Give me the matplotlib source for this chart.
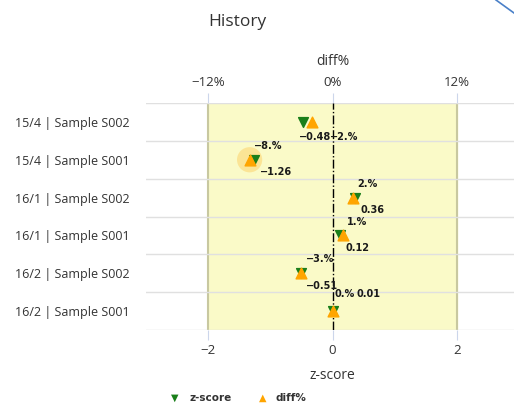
import numpy as np
import matplotlib
matplotlib.use('Agg')
import matplotlib.pyplot as plt
from matplotlib.lines import Line2D

# datos
categorias = ["15/4 | Sample S002", "15/4 | Sample S001", "16/1 | Sample S002",
              "16/1 | Sample S001", "16/2 | Sample S002", "16/2 | Sample S001"]
zscore = [-0.48, -1.26, 0.36, 0.12, -0.51, 0.01]
diff_pct = [-2, -8, 2, 1, -3, 0]
etiq_z = ["\u22120.48", "\u22121.26", "0.36", "0.12", "\u22120.51", "0.01"]
etiq_diff = ["\u22122.%", "\u22128.%", "2.%", "1.%", "\u22123.%", "0.%"]

plt.rcParams['font.family'] = ['Open Sans', 'DejaVu Sans']

fig = plt.figure(figsize=(5.14, 4.03), dpi=100)
ax = fig.add_axes([146 / 514, 1 - 330 / 403, 373 / 514, 227 / 403])

y = np.arange(len(categorias))
ax.set_xlim(-3, 3)
ax.set_ylim(len(categorias) - 0.5, -0.5)

# banda amarilla y linea del cero
ax.axvspan(-2, 2, color='#fafac8', zorder=0)
ax.axvline(-2, color='#c8c8a0', lw=1.5, zorder=1)
ax.axvline(2, color='#c8c8a0', lw=1.5, zorder=1)
ax.axvline(0, color='black', lw=1, ls='-.', zorder=2)
for b in np.arange(-0.5, len(categorias), 1):
    ax.axhline(b, color='#e0e0e0', lw=1, zorder=1)

# halo de punto seleccionado
ax.scatter([diff_pct[1] / 6], [y[1]], s=330, color='#ffa500', alpha=0.25,
           edgecolors='none', zorder=3)

ax.scatter(zscore, y, marker='v', s=50, color='#1a7f1a', zorder=4)
ax.scatter(np.array(diff_pct) / 6, y, marker='^', s=60, color='#ffa500', zorder=5)

# etiquetas de datos
estilo = dict(fontsize=7, fontweight='bold', color='#1a1a1a', family='DejaVu Sans', zorder=6)
for i in range(len(categorias)):
    xz, xd = zscore[i], diff_pct[i] / 6
    if i == 0:
        ax.annotate(etiq_z[i], (xz, y[i]), xytext=(-3, -11), textcoords='offset points', va='center', **estilo)
        ax.annotate(etiq_diff[i], (xd, y[i]), xytext=(13, -11), textcoords='offset points', va='center', **estilo)
    elif i == 5:
        ax.annotate(etiq_diff[i], (xz, y[i]), xytext=(1, 12), textcoords='offset points', va='center', **estilo)
        ax.annotate(etiq_z[i], (xz, y[i]), xytext=(17, 12), textcoords='offset points', va='center', **estilo)
    else:
        ax.annotate(etiq_z[i], (xz, y[i]), xytext=(4, -9), textcoords='offset points', va='center', **estilo)
        ax.annotate(etiq_diff[i], (xd, y[i]), xytext=(3, 10), textcoords='offset points', va='center', **estilo)

# ejes
for s in ax.spines.values():
    s.set_visible(False)
ax.set_yticks(y)
ax.set_yticklabels(categorias, fontsize=9, color='#333333')
ax.tick_params(axis='y', length=0, pad=11.5)
ax.set_xticks([-2, 0, 2])
ax.set_xticklabels(["\u22122", "0", "2"], fontsize=9.5, color='#333333')
ax.tick_params(axis='x', length=7, color='#ccd6eb', pad=3)
ax.set_xlabel("z-score", fontsize=10, color='#333333', labelpad=8)

top = ax.secondary_xaxis('top', functions=(lambda v: v * 6, lambda v: v / 6))
top.set_xticks([-12, 0, 12])
top.set_xticklabels(["\u221212%", "0%", "12%"], fontsize=9.5, color='#333333')
top.tick_params(length=7, color='#ccd6eb', pad=3)
top.spines['top'].set_visible(False)
top.set_xlabel("diff%", fontsize=10, color='#333333', labelpad=8)

fig.text(237 / 514, 1 - 22 / 403, "History", fontsize=12.5, color='#333333', ha='center', va='center')

# leyenda
fig.text(175 / 514, 1 - 398 / 403, "\u25bc", fontsize=7, color='#1a7f1a', ha='center', va='center', family='DejaVu Sans')
fig.text(189 / 514, 1 - 398 / 403, "z-score", fontsize=7.5, fontweight='bold', color='#333333', va='center', family='DejaVu Sans')
fig.text(263 / 514, 1 - 398 / 403, "\u25b2", fontsize=7, color='#ffa500', ha='center', va='center', family='DejaVu Sans')
fig.text(276 / 514, 1 - 398 / 403, "diff%", fontsize=7.5, fontweight='bold', color='#333333', va='center', family='DejaVu Sans')

# trozo de curva azul en la esquina
fig.add_artist(Line2D([496 / 514, 514 / 514], [1.0, 1 - 13 / 403], color='#4a80c8', lw=1.2))

fig.savefig('out.png', dpi=100)
